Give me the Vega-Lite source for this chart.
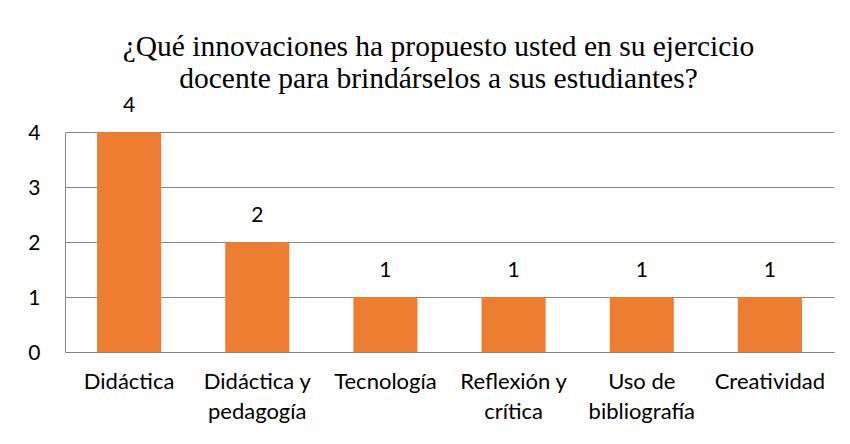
{
  "$schema": "https://vega.github.io/schema/vega-lite/v6.json",
  "width": 769,
  "height": 220,
  "autosize": {"type": "none"},
  "padding": {"left": 65, "top": 132, "right": 16, "bottom": 92},
  "background": "white",
  "title": {
    "text": ["¿Qué innovaciones ha propuesto usted en su ejercicio", "docente para brindárselos a sus estudiantes?"],
    "font": "Liberation Serif",
    "fontSize": 29.5,
    "fontWeight": "normal",
    "color": "#000000",
    "lineHeight": 32,
    "anchor": "middle",
    "frame": "group",
    "offset": 1,
    "dx": -11
  },
  "data": {
    "values": [
      {"categoria": "Didáctica", "valor": 4},
      {"categoria": "Didáctica y pedagogía", "valor": 2},
      {"categoria": "Tecnología", "valor": 1},
      {"categoria": "Reflexión y crítica", "valor": 1},
      {"categoria": "Uso de bibliografía", "valor": 1},
      {"categoria": "Creatividad", "valor": 1}
    ]
  },
  "config": {
    "view": {"stroke": null},
    "font": "Lato"
  },
  "encoding": {
    "x": {
      "field": "categoria",
      "type": "nominal",
      "sort": null,
      "scale": {"paddingInner": 0.5, "paddingOuter": 0.25},
      "axis": {
        "title": null,
        "labelAngle": 0,
        "labelFont": "Lato",
        "labelFontSize": 22,
        "labelColor": "#000000",
        "labelLineHeight": 30,
        "labelPadding": 19,
        "labelBaseline": "top",
        "ticks": false,
        "domainColor": "#868686",
        "domainWidth": 1,
        "labelExpr": "datum.value == 'Didáctica y pedagogía' ? ['Didáctica y', 'pedagogía'] : datum.value == 'Reflexión y crítica' ? ['Reflexión y', 'crítica'] : datum.value == 'Uso de bibliografía' ? ['Uso de', 'bibliografía'] : datum.value"
      }
    },
    "y": {
      "field": "valor",
      "type": "quantitative",
      "scale": {"domain": [0, 4], "nice": false},
      "axis": {
        "title": null,
        "values": [0, 1, 2, 3, 4],
        "format": "d",
        "labelFont": "Lato",
        "labelFontSize": 21,
        "labelColor": "#000000",
        "labelPadding": 25,
        "labelOffset": 1,
        "ticks": false,
        "domainColor": "#868686",
        "gridColor": "#868686",
        "gridWidth": 1
      }
    }
  },
  "layer": [
    {"mark": {"type": "bar", "color": "#ED7D31"}},
    {
      "mark": {"type": "text", "baseline": "alphabetic", "dy": -20, "font": "Lato", "fontSize": 21, "color": "#000000"},
      "encoding": {"text": {"field": "valor", "type": "quantitative"}}
    }
  ]
}
